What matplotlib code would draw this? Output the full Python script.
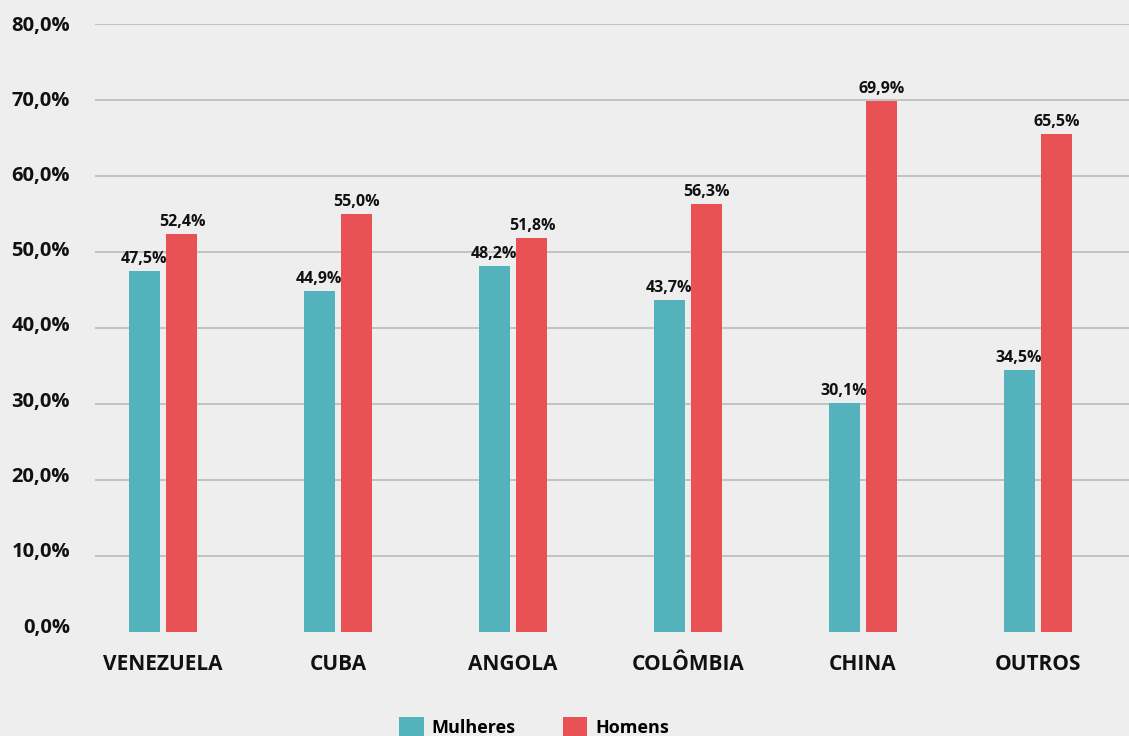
import matplotlib
matplotlib.use("Agg")
import matplotlib.pyplot as plt
import matplotlib.transforms as mtransforms
import numpy as np
from matplotlib.patches import Patch

categories = ["VENEZUELA", "CUBA", "ANGOLA", "COLÔMBIA", "CHINA", "OUTROS"]
mulheres = [47.5, 44.9, 48.2, 43.7, 30.1, 34.5]
homens = [52.4, 55.0, 51.8, 56.3, 69.9, 65.5]
yticks = [0, 10, 20, 30, 40, 50, 60, 70, 80]

TEAL = "#54b2bc"
RED = "#e85254"
BG = "#eeeeee"

plt.rcParams['font.family'] = ['Open Sans', 'DejaVu Sans']

W, H = 1129, 736
fig = plt.figure(figsize=(W / 100, H / 100), dpi=100, facecolor=BG)
ax = fig.add_axes([95 / W, 104 / H, 1034 / W, 608 / H], facecolor=BG)

x = np.arange(len(categories))
bw = 0.177
off = 0.108
b1 = ax.bar(x - off, mulheres, bw, color=TEAL, zorder=3, label="Mulheres")
b2 = ax.bar(x + off, homens, bw, color=RED, zorder=3, label="Homens")

def fmt(v):
    return f"{v:.1f}".replace(".", ",") + "%"

for bars, vals in ((b1, mulheres), (b2, homens)):
    for r, v in zip(bars, vals):
        ax.annotate(fmt(v), (r.get_x() + r.get_width() / 2, v), xytext=(0, 3),
                    textcoords="offset points", ha="center", va="bottom",
                    fontsize=11.5, fontweight="bold", color="#111111", zorder=4)

ax.set_xlim(-0.389, 5.52)
ax.set_ylim(0, 80)
ax.set_yticks(yticks)
ax.set_yticklabels([fmt(v) for v in yticks], fontsize=14.5, fontweight="bold", color="#111111")
ax.set_xticks(x)
ax.set_xticklabels(categories, fontsize=15, fontweight="bold", color="#111111")
ax.tick_params(axis="y", length=0, pad=18)
ax.tick_params(axis="x", length=0, pad=16)
for v, lab in zip(yticks, ax.get_yticklabels()):
    lab.set_horizontalalignment("right")
    dy = (1 + 6 * (1 - v / 80)) / 100
    lab.set_transform(lab.get_transform() + mtransforms.ScaledTranslation(0, dy, fig.dpi_scale_trans))

ax.yaxis.grid(True, color="#bbbbbb", linewidth=1.2, zorder=0)
ax.set_axisbelow(True)
gl = ax.yaxis.get_gridlines()
gl[0].set_visible(False)
for s in ax.spines.values():
    s.set_visible(False)

handles = [Patch(facecolor=TEAL, label="Mulheres"), Patch(facecolor=RED, label="Homens")]
fig.legend(handles=handles, loc="center", bbox_to_anchor=(534 / W, 9 / H), ncol=2,
           frameon=False, prop={"size": 13, "weight": "bold"},
           handlelength=1.35, handleheight=1.35, columnspacing=2.6, handletextpad=0.45)

fig.savefig("out.png", dpi=100, facecolor=BG)
